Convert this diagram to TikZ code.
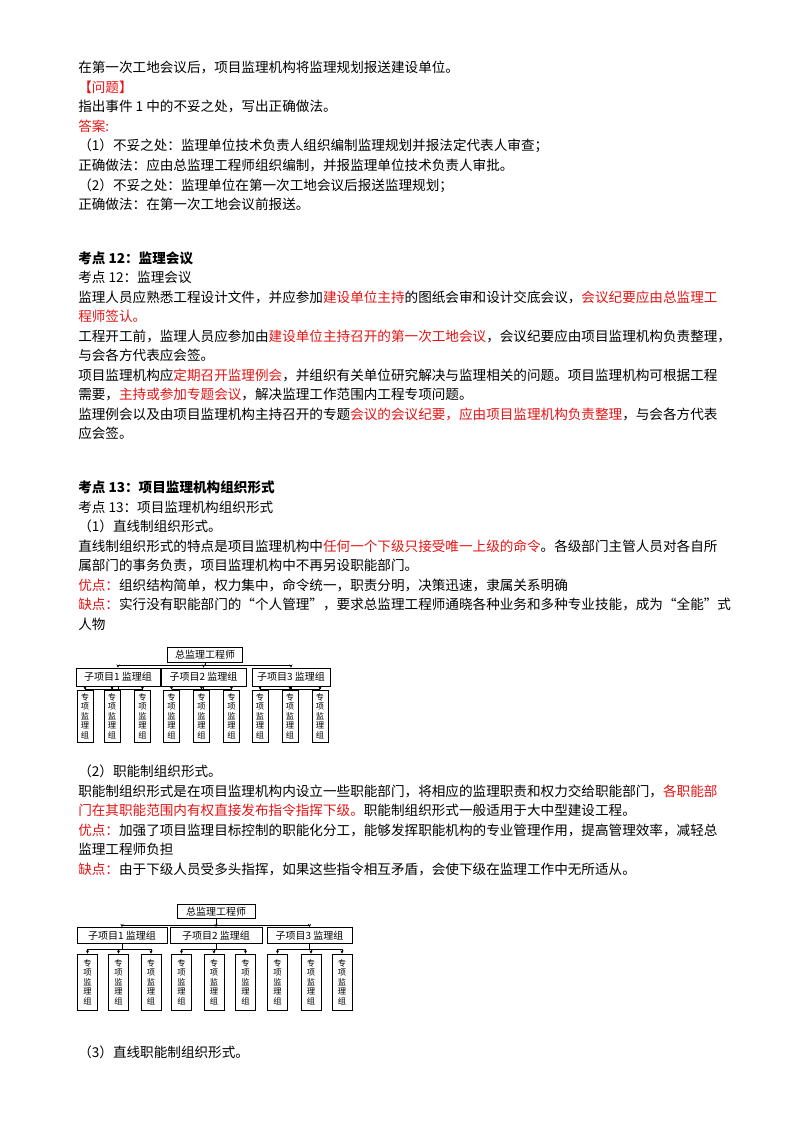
\documentclass[tikz,border=0pt]{standalone}
\usepackage{fontspec}
\setmainfont{Noto Sans CJK SC}
\usetikzlibrary{arrows.meta}
\definecolor{rd}{RGB}{230,20,20}
\newcommand{\rt}[1]{\textcolor{rd}{#1}}
\begin{document}
\begin{tikzpicture}[x=0.75pt,y=-0.75pt,
  txt/.style={anchor=base west,inner sep=0pt,font=\fontsize{10.2pt}{12pt}\selectfont},
  bold/.style={txt,font=\fontsize{10.2pt}{12pt}\selectfont\bfseries},
  box/.style={draw,line width=0.5pt,inner sep=0pt,font=\fontsize{7.5pt}{8pt}\selectfont},
  leaf/.style={box,align=center,font=\fontsize{6.2pt}{7.2pt}\selectfont},
  ar/.style={-{Stealth[length=2.5pt,width=2.5pt]},line width=0.4pt},
  ln/.style={line width=0.4pt}]
\useasboundingbox[fill=white] (0,0) rectangle (800,1132);
\node[txt] (t1) at (78,72) {在第一次工地会议后，项目监理机构将监理规划报送建设单位。};
\node[txt] (t2) at (78,92) {\rt{【问题】}};
\node[txt] (t3) at (78,111) {指出事件 1 中的不妥之处，写出正确做法。};
\node[txt] (t4) at (78,131) {\rt{答案:}};
\node[txt] (t5) at (78,150) {（1）不妥之处：监理单位技术负责人组织编制监理规划并报法定代表人审查；};
\node[txt] (t6) at (78,170) {正确做法：应由总监理工程师组织编制，并报监理单位技术负责人审批。};
\node[txt] (t7) at (78,190) {（2）不妥之处：监理单位在第一次工地会议后报送监理规划；};
\node[txt] (t8) at (78,209) {正确做法：在第一次工地会议前报送。};
\node[bold] (t9) at (78,263) {考点 12：监理会议};
\node[txt] (t10) at (78,282) {考点 12：监理会议};
\node[txt] (t11) at (78,302) {监理人员应熟悉工程设计文件，并应参加\rt{建设单位主持}的图纸会审和设计交底会议，\rt{会议纪要应由总监理工}};
\node[txt] (t12) at (78,321) {\rt{程师签认。}};
\node[txt] (t13) at (78,341) {工程开工前，监理人员应参加由\rt{建设单位主持召开的第一次工地会议}，会议纪要应由项目监理机构负责整理，};
\node[txt] (t14) at (78,360) {与会各方代表应会签。};
\node[txt] (t15) at (78,380) {项目监理机构应\rt{定期召开监理例会}，并组织有关单位研究解决与监理相关的问题。项目监理机构可根据工程};
\node[txt] (t16) at (78,399) {需要，\rt{主持或参加专题会议}，解决监理工作范围内工程专项问题。};
\node[txt] (t17) at (78,419) {监理例会以及由项目监理机构主持召开的专题\rt{会议的会议纪要，应由项目监理机构负责整理}，与会各方代表};
\node[txt] (t18) at (78,438) {应会签。};
\node[bold] (t19) at (78,492) {考点 13：项目监理机构组织形式};
\node[txt] (t20) at (78,512) {考点 13：项目监理机构组织形式};
\node[txt] (t21) at (78,531) {（1）直线制组织形式。};
\node[txt] (t22) at (78,551) {直线制组织形式的特点是项目监理机构中\rt{任何一个下级只接受唯一上级的命令}。各级部门主管人员对各自所};
\node[txt] (t23) at (78,570) {属部门的事务负责，项目监理机构中不再另设职能部门。};
\node[txt] (t24) at (78,590) {\rt{优点：}组织结构简单，权力集中，命令统一，职责分明，决策迅速，隶属关系明确};
\node[txt] (t25) at (78,609) {\rt{缺点：}实行没有职能部门的“个人管理”，要求总监理工程师通晓各种业务和多种专业技能，成为“全能”式};
\node[txt] (t26) at (78,629) {人物};
\node[txt] (t27) at (78,776) {（2）职能制组织形式。};
\node[txt] (t28) at (78,796) {职能制组织形式是在项目监理机构内设立一些职能部门，将相应的监理职责和权力交给职能部门，\rt{各职能部}};
\node[txt] (t29) at (78,815) {\rt{门在其职能范围内有权直接发布指令指挥下级。}职能制组织形式一般适用于大中型建设工程。};
\node[txt] (t30) at (78,835) {\rt{优点：}加强了项目监理目标控制的职能化分工，能够发挥职能机构的专业管理作用，提高管理效率，减轻总};
\node[txt] (t31) at (78,854) {监理工程师负担};
\node[txt] (t32) at (78,874) {\rt{缺点：}由于下级人员受多头指挥，如果这些指令相互矛盾，会使下级在监理工作中无所适从。};
\node[txt] (t33) at (78,1057) {（3）直线职能制组织形式。};

% ---- chart A ----
\node[box,minimum width=56pt,minimum height=11pt] (a0) at (205,654.5) {总监理工程师};
\node[box,minimum width=63pt,minimum height=13.5pt] (a1) at (118,677) {子项目1 监理组};
\node[box,minimum width=63.5pt,minimum height=13.5pt] (a2) at (203.5,677) {子项目2 监理组};
\node[box,minimum width=58.5pt,minimum height=13.5pt] (a3) at (291,677) {子项目3 监理组};
\foreach \i/\x in {1/85,2/112,3/142.5,4/171.5,5/201.5,6/231.5,7/260,8/290,9/320}
  \node[leaf,minimum width=12pt,minimum height=39pt] (al\i) at (\x,716) {专\\项\\监\\理\\组};
\coordinate (aj) at (205,665);
\draw[ln] (a0.south) -- (aj);
\draw[ln] (a1.north |- aj) -- (a3.north |- aj);
\foreach \k in {1,2,3} \draw[ar] (a\k.north |- aj) -- (a\k.north);
\foreach \k/\p/\q in {1/1/3,2/4/6,3/7/9}{
  \coordinate (ab\k) at (0,689);
  \draw[ln] (a\k.south) -- (a\k.south |- ab\k);
  \draw[ln] (al\p.north |- ab\k) -- (al\q.north |- ab\k);
}
\foreach \i in {1,...,9} \draw[ar] (al\i.north |- ab1) -- (al\i.north);

% ---- chart B ----
\node[box,minimum width=58.5pt,minimum height=10.5pt] (b0) at (216,911.5) {总监理工程师};
\node[box,minimum width=67.5pt,minimum height=12pt] (b1) at (122,935.5) {子项目1 监理组};
\node[box,minimum width=69pt,minimum height=12pt] (b2) at (216,935.5) {子项目2 监理组};
\node[box,minimum width=64pt,minimum height=12pt] (b3) at (309.5,935.5) {子项目3 监理组};
\foreach \i/\x in {1/87.5,2/118.5,3/151,4/181.5,5/214,6/245.5,7/277.5,8/311,9/342}
  \node[leaf,minimum width=15pt,minimum height=42pt] (bl\i) at (\x,982) {专\\项\\监\\理\\组};
\coordinate (bj) at (216,925);
\draw[ln] (b0.south) -- (bj);
\draw[ln] (b1.north |- bj) -- (b3.north |- bj);
\foreach \k in {1,2,3} \draw[ar] (b\k.north |- bj) -- (b\k.north);
\foreach \k/\p/\q in {1/1/3,2/4/6,3/7/9}{
  \coordinate (bb\k) at (0,949);
  \draw[ln] (b\k.south) -- (b\k.south |- bb\k);
  \draw[ln] (bl\p.north |- bb\k) -- (bl\q.north |- bb\k);
}
\foreach \i in {1,...,9} \draw[ar] (bl\i.north |- bb1) -- (bl\i.north);
\end{tikzpicture}
\end{document}
